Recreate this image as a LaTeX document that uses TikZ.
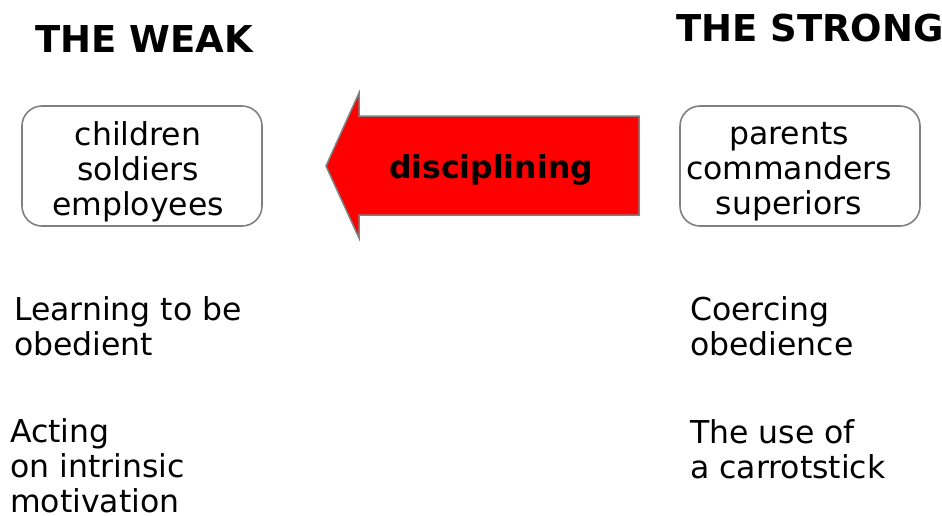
\documentclass[tikz,border=0pt]{standalone}
\usepackage{fontspec}
\setmainfont{DejaVu Sans}
\begin{document}
\begin{tikzpicture}[x=1pt,y=-1pt,
  title/.style={font=\bfseries\fontsize{37}{42}\selectfont, inner sep=0pt},
  group/.style={draw=black!50, line width=1.6pt, rounded corners=20pt,
    minimum width=240pt, minimum height=120pt, inner sep=0pt},
  grouptext/.style={align=center, inner sep=0pt, font=\fontsize{31.5}{35}\selectfont},
  note/.style={align=left, inner sep=0pt, anchor=base west,
    font=\fontsize{31.5}{35}\selectfont}]
\useasboundingbox (0,0) rectangle (942,515);
\node[title, anchor=base west] (weak) at (35,52) {THE WEAK};
\node[title, anchor=base west] (strong) at (676,41) {THE STRONG};
\node[group] (wbox) at (142,166) {};
\node[grouptext] (wtext) at (138,172) {children\\soldiers\\employees};
\node[group] (sbox) at (800,166) {};
\node[grouptext] (stext) at (789,172) {parents\\commanders\\superiors};
\draw[fill=red, draw=black!50, line width=1.5pt]
  (639,116) -- (359,116) -- (359,93) -- (326,166) -- (359,238) -- (359,215) -- (639,215) -- cycle;
\node[font=\bfseries\fontsize{31.5}{35}\selectfont, inner sep=0pt] (disc) at (491,170) {disciplining};
\node[note] (learn) at (14,355) {Learning to be\\obedient};
\node[note] (act) at (10,512) {Acting\\on intrinsic\\motivation};
\node[note] (coerce) at (690,355) {Coercing\\obedience};
\node[note] (use) at (690,478) {The use of\\a carrotstick};
\end{tikzpicture}
\end{document}
